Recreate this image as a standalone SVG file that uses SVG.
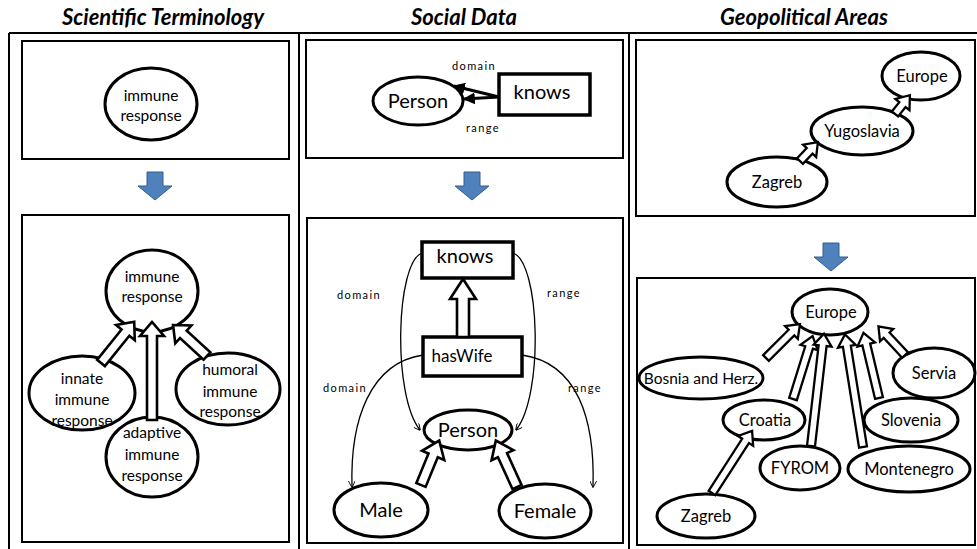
<svg xmlns="http://www.w3.org/2000/svg" width="977" height="549" viewBox="0 0 977 549">
<style>
.frame{fill:none;stroke:#000;stroke-width:2}
.panel{fill:#fff;stroke:#000;stroke-width:2}
.el{fill:#fff;stroke:#000;stroke-width:3}
.rect{fill:#fff;stroke:#000;stroke-width:3.5}
.ha{fill:#fff;stroke:#000;stroke-width:2.6;stroke-linejoin:miter}
.ha3{fill:#fff;stroke:#000;stroke-width:2.3}
.thin{fill:none;stroke:#000;stroke-width:1.3}
.blue{fill:#4f81bd;stroke:#385d8a;stroke-width:1}
.title{font-family:Lato,"Liberation Sans",sans-serif;font-weight:bold;font-style:italic;font-size:22px;text-anchor:middle}
.t{font-family:Lato,"Liberation Sans",sans-serif;text-anchor:middle;fill:#000}
.s15{font-size:15.5px}
.s17{font-size:16.5px}
.s20{font-size:20px}
.lbl{font-family:Lato,"Liberation Sans",sans-serif;font-size:11px;letter-spacing:1.4px;text-anchor:middle}
</style>
<defs>
<marker id="fa" viewBox="0 0 10 10" refX="9" refY="5" markerWidth="4" markerHeight="4" orient="auto">
<path d="M0,0 L10,5 L0,10 z" fill="#000"/>
</marker>
<marker id="va" viewBox="0 0 10 10" refX="9" refY="5" markerWidth="7" markerHeight="7" orient="auto" markerUnits="userSpaceOnUse">
<path d="M0,0 L10,5 L0,10" fill="none" stroke="#000" stroke-width="1.3"/>
</marker>
<polygon id="blueArrow" class="blue" points="-8,0 8,0 8,14 17,14 0,28 -17,14 -8,14"/>
</defs>
<rect width="977" height="549" fill="#fff"/>

<!-- titles -->
<text class="title" x="163" y="25">Scientific Terminology</text>
<text class="title" x="464" y="25">Social Data</text>
<text class="title" x="804" y="25">Geopolitical Areas</text>

<!-- frame -->
<g id="frame">
<line class="frame" x1="9" y1="33" x2="977" y2="33"/>
<line class="frame" x1="9" y1="33" x2="9" y2="549"/>
<line class="frame" x1="299" y1="33" x2="299" y2="549"/>
<line class="frame" x1="629" y1="33" x2="629" y2="549"/>
</g>

<!-- panels -->
<g id="panels">
<rect class="panel" x="22" y="41" width="267" height="118"/>
<rect class="panel" x="22" y="215" width="267" height="327"/>
<rect class="panel" x="306" y="40" width="317" height="118"/>
<rect class="panel" x="307" y="218" width="316" height="325"/>
<rect class="panel" x="636" y="40" width="339" height="176"/>
<rect class="panel" x="637" y="278" width="338" height="267"/>
</g>

<!-- blue transition arrows -->
<g id="transitions">
<use href="#blueArrow" x="155" y="172"/>
<use href="#blueArrow" x="472" y="172"/>
<use href="#blueArrow" x="831" y="243"/>
</g>

<!-- Column 1 nodes -->
<g id="st-top-immune">
<ellipse class="el" cx="151" cy="104" rx="46" ry="36"/>
<text class="t s15" x="151" y="101">immune</text>
<text class="t s15" x="151" y="121">response</text>
</g>
<g id="st-immune">
<ellipse class="el" cx="152" cy="291" rx="46" ry="41"/>
<text class="t s15" x="152" y="282">immune</text>
<text class="t s15" x="152" y="302">response</text>
</g>
<g id="st-innate">
<ellipse class="el" cx="82" cy="393" rx="53" ry="37"/>
<text class="t s15" x="82" y="384">innate</text>
<text class="t s15" x="82" y="405">immune</text>
<text class="t s15" x="82" y="426">response</text>
</g>
<g id="st-adaptive">
<ellipse class="el" cx="152" cy="457" rx="46" ry="40"/>
<text class="t s15" x="152" y="438">adaptive</text>
<text class="t s15" x="152" y="460">immune</text>
<text class="t s15" x="152" y="481">response</text>
</g>
<g id="st-humoral">
<ellipse class="el" cx="228" cy="389" rx="52" ry="36"/>
<text class="t s15" x="230" y="375">humoral</text>
<text class="t s15" x="230" y="397">immune</text>
<text class="t s15" x="230" y="417">response</text>
</g>

<!-- Column 2 nodes -->
<g id="sd-top-person">
<ellipse class="el" cx="418" cy="101" rx="45" ry="24"/>
<text class="t s20" x="418" y="108">Person</text>
</g>
<g id="sd-top-knows">
<rect class="rect" x="499" y="74" width="91" height="41"/>
<text class="t s20" x="542" y="99">knows</text>
</g>
<g id="sd-knows">
<rect class="rect" x="422" y="242" width="91" height="36"/>
<text class="t s20" x="465" y="263">knows</text>
</g>
<g id="sd-haswife">
<rect class="rect" x="423" y="337" width="99" height="39"/>
<text class="t" x="462" y="362" style="font-size:17px">hasWife</text>
</g>
<g id="sd-person">
<ellipse class="el" cx="468" cy="430" rx="44" ry="20"/>
<text class="t s20" x="468" y="437">Person</text>
</g>
<g id="sd-male">
<ellipse class="el" cx="381" cy="510" rx="47" ry="27"/>
<text class="t s20" x="381" y="517">Male</text>
</g>
<g id="sd-female">
<ellipse class="el" cx="545" cy="511" rx="46" ry="27"/>
<text class="t s20" x="545" y="518">Female</text>
</g>

<!-- Column 3 nodes -->
<g id="ga-top-europe">
<ellipse class="el" cx="921" cy="76" rx="39" ry="24"/>
<text class="t s17" x="922" y="82">Europe</text>
</g>
<g id="ga-top-yugoslavia">
<ellipse class="el" cx="862" cy="131" rx="51" ry="24"/>
<text class="t s17" x="862" y="137">Yugoslavia</text>
</g>
<g id="ga-top-zagreb">
<ellipse class="el" cx="777" cy="182" rx="50" ry="25"/>
<text class="t s17" x="777" y="188">Zagreb</text>
</g>
<g id="ga-europe">
<ellipse class="el" cx="830" cy="312" rx="38" ry="23"/>
<text class="t s17" x="831" y="318">Europe</text>
</g>
<g id="ga-bosnia">
<ellipse class="el" cx="701" cy="378" rx="62" ry="21"/>
<text class="t" x="701" y="384" style="font-size:15.5px">Bosnia and Herz.</text>
</g>
<g id="ga-croatia">
<ellipse class="el" cx="764" cy="420" rx="41" ry="20"/>
<text class="t s17" x="765" y="426">Croatia</text>
</g>
<g id="ga-fyrom">
<ellipse class="el" cx="800" cy="468" rx="40" ry="22"/>
<text class="t s17" x="800" y="474">FYROM</text>
</g>
<g id="ga-montenegro">
<ellipse class="el" cx="909" cy="469" rx="61" ry="23"/>
<text class="t s17" x="909" y="475">Montenegro</text>
</g>
<g id="ga-slovenia">
<ellipse class="el" cx="911" cy="420" rx="47" ry="22"/>
<text class="t s17" x="911" y="426">Slovenia</text>
</g>
<g id="ga-servia">
<ellipse class="el" cx="934" cy="373" rx="41" ry="25"/>
<text class="t s17" x="934" y="379">Servia</text>
</g>
<g id="ga-zagreb">
<ellipse class="el" cx="706" cy="516" rx="49" ry="22"/>
<text class="t s17" x="706" y="522">Zagreb</text>
</g>

<!-- connectors -->
<g id="connectors">
<!-- column 1 -->
<polygon class="ha" transform="translate(101,363) rotate(-51.2)" points="0,-5 39,-5 39,-12 53,0 39,12 39,5 0,5"/>
<polygon class="ha" transform="translate(152,420) rotate(-90)" points="0,-5 84,-5 84,-12 98,0 84,12 84,5 0,5"/>
<polygon class="ha" transform="translate(207,356) rotate(-137.6)" points="0,-5 32,-5 32,-12 46,0 32,12 32,5 0,5"/>

<!-- column 2 top -->
<line x1="499" y1="97" x2="454" y2="86" stroke="#000" stroke-width="3" marker-end="url(#fa)"/>
<line x1="499" y1="97" x2="464" y2="99" stroke="#000" stroke-width="3" marker-end="url(#fa)"/>
<text class="lbl" x="474" y="70">domain</text>
<text class="lbl" x="483" y="132">range</text>

<!-- column 2 bottom -->
<polygon class="ha" transform="translate(463,337) rotate(-90)" points="0,-6 38,-6 38,-13 58,0 38,13 38,6 0,6"/>
<polygon class="ha" transform="translate(421,485) rotate(-67.7)" points="0,-5 32,-5 32,-12 48,0 32,12 32,5 0,5"/>
<polygon class="ha" transform="translate(517,487) rotate(-114.5)" points="0,-5 35,-5 35,-12 51,0 35,12 35,5 0,5"/>
<path class="thin" d="M422,253 C396,262 392,395 420,430" marker-end="url(#va)"/>
<path class="thin" d="M513,253 C540,262 544,395 516,430" marker-end="url(#va)"/>
<path class="thin" d="M423,355 C370,363 350,420 352,487" marker-end="url(#va)"/>
<path class="thin" d="M522,355 C578,363 595,420 593,487" marker-end="url(#va)"/>
<text class="lbl" x="359" y="299">domain</text>
<text class="lbl" x="564" y="297">range</text>
<text class="lbl" x="345" y="392">domain</text>
<text class="lbl" x="585" y="392">range</text>

<!-- column 3 top -->
<polygon class="ha3" transform="translate(800,161) rotate(-46.5)" points="0,-4 14,-4 14,-9 26,0 14,9 14,4 0,4"/>
<polygon class="ha3" transform="translate(895,114) rotate(-51.7)" points="0,-4 12,-4 12,-9 24,0 12,9 12,4 0,4"/>

<!-- column 3 bottom -->
<polygon class="ha3" transform="translate(766,358) rotate(-45)" points="0,-4 36,-4 36,-9 48,0 36,9 36,4 0,4"/>
<polygon class="ha3" transform="translate(793,399) rotate(-72.7)" points="0,-4 54,-4 54,-9 66,0 54,9 54,4 0,4"/>
<polygon class="ha3" transform="translate(811,446) rotate(-83.4)" points="0,-4 101,-4 101,-9 113,0 101,9 101,4 0,4"/>
<polygon class="ha3" transform="translate(863,447) rotate(-99.1)" points="0,-4 102,-4 102,-9 114,0 102,9 102,4 0,4"/>
<polygon class="ha3" transform="translate(879,398) rotate(-103.4)" points="0,-4 55,-4 55,-9 67,0 55,9 55,4 0,4"/>
<polygon class="ha3" transform="translate(905,355) rotate(-132.9)" points="0,-4 27,-4 27,-9 39,0 27,9 27,4 0,4"/>
<polygon class="ha3" transform="translate(712,493) rotate(-57.2)" points="0,-4 62,-4 62,-9 74,0 62,9 62,4 0,4"/>
</g>
</svg>
